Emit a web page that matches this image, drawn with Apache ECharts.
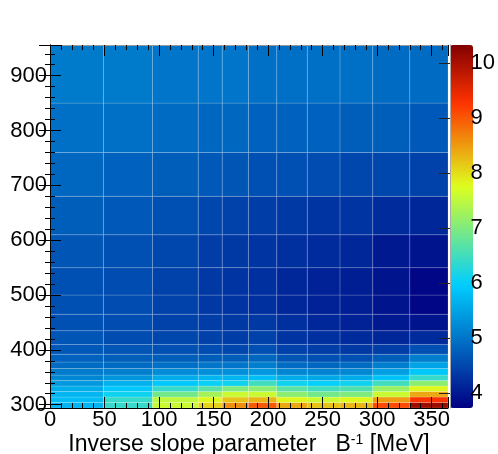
<!DOCTYPE html>
<html>
<head>
<meta charset="utf-8">
<script src="https://cdn.jsdelivr.net/npm/echarts@6/dist/echarts.min.js"></script>
<style>
  html, body { margin: 0; padding: 0; background: #fff; }
  #main { width: 498px; height: 454px; }
</style>
</head>
<body>
<div id="main"></div>
<script>
// bin edges (x: inverse slope [MeV], y: second variable)
var xEdges = [0, 49, 94, 136, 158, 182, 208, 236, 266, 296, 330, 365];
var yEdges = [294, 304, 314, 324, 334, 344, 354, 366, 378, 392, 410, 435, 465, 500, 550, 610, 680, 760, 850, 956];
var xTicks = [0, 50, 100, 150, 200, 250, 300, 350];
var zTicks = [4, 5, 6, 7, 8, 9, 10];
var zMin = 3.73, zMax = 10.33;

// one row per y bin (bottom to top), one value per x bin
var zRows = [
  [5.7, 6.4, 7.6, 8.1, 8.6, 9.0, 8.4, 8.2, 8.3, 9.1, 10.1],
  [5.8, 6.4, 7.5, 7.8, 8.2, 8.3, 7.8, 7.6, 7.8, 8.5, 9.3],
  [5.7, 6.1, 6.9, 7.3, 7.6, 7.6, 7.1, 6.9, 7.0, 7.6, 8.4],
  [5.6, 5.9, 6.4, 6.7, 7.0, 7.1, 6.7, 6.5, 6.6, 7.2, 7.8],
  [5.4, 5.65, 5.9, 6.05, 6.1, 6.5, 6.1, 6.0, 6.1, 6.5, 7.1],
  [5.2, 5.35, 5.6, 5.7, 5.7, 5.8, 5.6, 5.55, 5.6, 5.85, 6.4],
  [5.05, 5.1, 5.25, 5.3, 5.3, 5.4, 5.2, 5.15, 5.2, 5.45, 5.9],
  [4.9, 4.9, 4.95, 5.0, 5.0, 5.1, 4.9, 4.85, 4.9, 5.1, 5.5],
  [4.8, 4.75, 4.75, 4.75, 4.75, 4.85, 4.65, 4.6, 4.6, 4.75, 5.1],
  [4.7, 4.65, 4.6, 4.55, 4.5, 4.6, 4.45, 4.4, 4.35, 4.4, 4.6],
  [4.65, 4.55, 4.5, 4.45, 4.4, 4.45, 4.3, 4.25, 4.2, 4.15, 4.2],
  [4.6, 4.55, 4.45, 4.4, 4.35, 4.35, 4.25, 4.15, 4.1, 4.0, 3.95],
  [4.6, 4.55, 4.45, 4.35, 4.3, 4.25, 4.15, 4.1, 4.05, 3.95, 3.8],
  [4.6, 4.55, 4.45, 4.35, 4.3, 4.25, 4.15, 4.1, 4.05, 3.95, 3.8],
  [4.65, 4.6, 4.5, 4.4, 4.35, 4.3, 4.25, 4.2, 4.15, 4.0, 3.95],
  [4.75, 4.7, 4.6, 4.5, 4.45, 4.4, 4.35, 4.3, 4.3, 4.2, 4.15],
  [4.85, 4.8, 4.75, 4.7, 4.65, 4.6, 4.6, 4.55, 4.5, 4.5, 4.45],
  [4.95, 4.95, 4.9, 4.85, 4.85, 4.8, 4.8, 4.8, 4.75, 4.75, 4.7],
  [5.05, 5.05, 5.0, 5.0, 5.0, 4.95, 4.95, 4.95, 4.95, 4.9, 4.9]
];

// rainbow palette stops (ROOT kRainBow style)
var palStops = [0, 0.34, 0.61, 0.84, 1.0];
var palR = [0, 0, 0.87, 1, 0.51];
var palG = [0, 0.81, 1, 0.2, 0];
var palB = [0.51, 1, 0.12, 0, 0];

function palette(t) {
  var i = 1;
  while (i < palStops.length - 1 && t > palStops[i]) i++;
  var f = (t - palStops[i - 1]) / (palStops[i] - palStops[i - 1]);
  var c = function (a) { return Math.round(255 * (a[i - 1] + f * (a[i] - a[i - 1]))); };
  return 'rgb(' + c(palR) + ',' + c(palG) + ',' + c(palB) + ')';
}
var colors = [];
for (var k = 0; k <= 66; k++) colors.push(palette(k / 66));

var cells = [];
for (var r = 0; r < zRows.length; r++) {
  for (var c = 0; c < zRows[r].length; c++) {
    cells.push([xEdges[c], xEdges[c + 1], yEdges[r], yEdges[r + 1], zRows[r][c]]);
  }
}

var font = 'Liberation Sans, Arial, Helvetica, sans-serif';

var myChart = echarts.init(document.getElementById('main'));
var option = {
  animation: false,
  grid: [
    { left: 50, top: 45, width: 398, height: 363 },
    { left: 450, top: 45, width: 23, height: 363 }
  ],
  // x axis title
  graphic: [
    {
      type: 'text', left: 'center', top: 433, z: 20,
      style: {
        text: 'Inverse slope parameter   B{sup|-1} [MeV]',
        fontSize: 23, fontFamily: font, fill: '#000',
        rich: { sup: { fontSize: 14, verticalAlign: 'top', fontFamily: font, fill: '#000' } }
      }
    }
  ],
  xAxis: [
    {
      type: 'value', gridIndex: 0, min: 0, max: 365, interval: 50, position: 'bottom',
      axisLine: { show: true, lineStyle: { color: '#000', width: 1 } },
      axisTick: { show: true, inside: true, length: 11, lineStyle: { color: '#000' } },
      minorTick: { show: true, splitNumber: 5, length: 5, lineStyle: { color: '#000' } },
      splitLine: { show: false },
      axisLabel: {
        fontSize: 22, color: '#000', fontFamily: font, margin: 1, showMaxLabel: false,
        formatter: function (v) { return xTicks.indexOf(v) >= 0 ? String(v) : ''; }
      },
      z: 10
    },
    {
      type: 'value', gridIndex: 0, min: 0, max: 365, interval: 50, position: 'top',
      axisLine: { show: true, lineStyle: { color: '#999', width: 1 } },
      axisTick: { show: true, inside: true, length: 11, lineStyle: { color: '#000' } },
      minorTick: { show: true, splitNumber: 5, length: 5, lineStyle: { color: '#000' } },
      splitLine: { show: false }, axisLabel: { show: false }, z: 10
    },
    { type: 'value', gridIndex: 1, min: 0, max: 1, show: false }
  ],
  yAxis: [
    {
      type: 'value', gridIndex: 0, min: 294, max: 956, position: 'left',
      axisLine: { show: true, lineStyle: { color: '#000', width: 1 } },
      axisTick: { show: true, inside: true, length: 11, lineStyle: { color: '#000' } },
      minorTick: { show: true, splitNumber: 5, length: 5, lineStyle: { color: '#000' } },
      splitLine: { show: false },
      axisLabel: {
        fontSize: 22, color: '#000', fontFamily: font, margin: 3,
        showMinLabel: false, showMaxLabel: false,
        formatter: function (v) { return v % 100 === 0 ? String(v) : ''; }
      },
      z: 10
    },
    {
      type: 'value', gridIndex: 0, min: 294, max: 956, position: 'right',
      axisLine: { show: true, lineStyle: { color: '#000', width: 1 } },
      axisTick: { show: true, inside: true, length: 11, lineStyle: { color: '#000' } },
      minorTick: { show: true, splitNumber: 5, length: 5, lineStyle: { color: '#000' } },
      splitLine: { show: false }, axisLabel: { show: false }, z: 10
    },
    {
      type: 'value', gridIndex: 1, min: zMin, max: zMax, position: 'right',
      axisLine: { show: true, lineStyle: { color: '#aaa', width: 1 } },
      axisTick: { show: true, inside: true, length: 11, lineStyle: { color: '#222' } },
      splitLine: { show: false },
      axisLabel: {
        fontSize: 22, color: '#000', fontFamily: font, margin: 6,
        showMinLabel: false, showMaxLabel: false,
        formatter: function (v) { return zTicks.indexOf(v) >= 0 ? String(v) : ''; }
      },
      z: 10
    }
  ],
  visualMap: {
    type: 'continuous', min: zMin, max: zMax, dimension: 4, seriesIndex: 0,
    calculable: false, hoverLink: false,
    left: 450, top: 45, itemWidth: 23, itemHeight: 363, padding: 0,
    inRange: { color: colors },
    textStyle: { color: 'transparent' }
  },
  series: [
    {
      type: 'custom', xAxisIndex: 0, yAxisIndex: 0,
      encode: { x: [0, 1], y: [2, 3] },
      data: cells,
      renderItem: function (params, api) {
        var p0 = api.coord([api.value(0), api.value(2)]);
        var p1 = api.coord([api.value(1), api.value(3)]);
        return {
          type: 'rect',
          shape: { x: p0[0], y: p1[1], width: p1[0] - p0[0], height: p0[1] - p1[1] },
          style: { fill: api.visual('color'), stroke: 'rgba(255,255,255,0.22)', lineWidth: 0.8 }
        };
      }
    }
  ]
};
myChart.setOption(option);
</script>
</body>
</html>
